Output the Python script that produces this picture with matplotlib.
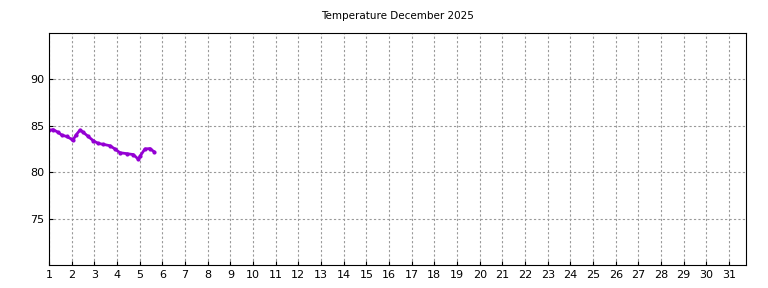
import numpy as np
import matplotlib.pyplot as plt

# readings (day of month, degrees)
days = [1.0, 1.18, 1.4, 1.56, 1.78, 2.0, 2.07, 2.19, 2.37, 2.51, 2.73, 2.95,
        3.17, 3.4, 3.69, 3.91, 4.13, 4.43, 4.72, 4.94, 5.01, 5.23, 5.45, 5.64]
temps = [84.5, 84.6, 84.3, 84.0, 83.85, 83.55, 83.5, 84.0, 84.55, 84.3, 83.85, 83.4,
         83.1, 83.0, 82.85, 82.5, 82.1, 82.0, 81.9, 81.4, 81.7, 82.5, 82.55, 82.2]
xticks = list(range(1, 32))
yticks = [75, 80, 85, 90]

fig = plt.figure(figsize=(7.68, 2.88), dpi=100)
ax = fig.add_axes([0.0638, 0.0799, 0.9076, 0.8055])

ax.plot(days, temps, color='#9400d3', linewidth=2, marker='.', markersize=4)

ax.set_xlim(1, 31.75)
ax.set_ylim(70, 95)
ax.set_xticks(xticks)
ax.set_yticks(yticks)
ax.tick_params(direction='in', labelsize=8, length=3)
ax.grid(True, color='#999999', linestyle=(0, (2, 2)), linewidth=0.8)
ax.set_title("Temperature December 2025", fontsize=7.5, pad=10)

fig.savefig("out.png", dpi=100)
